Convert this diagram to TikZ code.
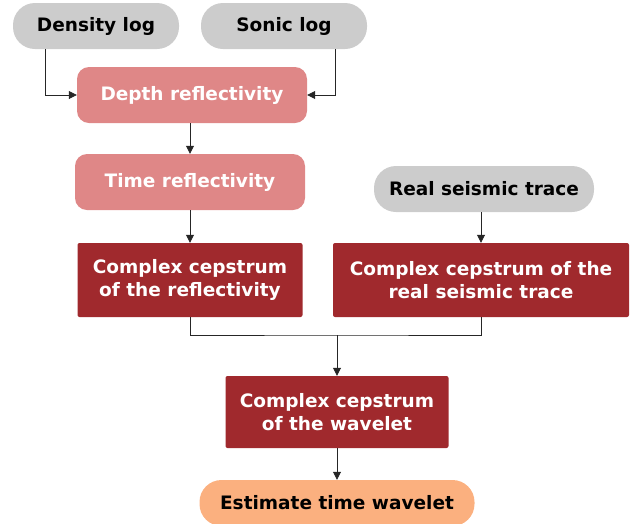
\documentclass[tikz,border=0pt]{standalone}
\usepackage{fontspec}
\setmainfont{DejaVu Sans}
\usetikzlibrary{arrows.meta}
\definecolor{logGray}{HTML}{CCCCCC}
\definecolor{reflPink}{HTML}{DF8787}
\definecolor{cepsRed}{HTML}{A0292D}
\definecolor{waveOrange}{HTML}{FBB07F}
\begin{document}
\begin{tikzpicture}[x=1pt,y=-1pt,
    every node/.style={font=\bfseries\fontsize{18.5}{23}\selectfont,align=center,inner sep=0pt},
    inputpill/.style={fill=logGray,text=black,rounded corners=22pt,minimum height=46pt},
    reflbox/.style={fill=reflPink,text=white,rounded corners=12pt,minimum width=230pt,minimum height=56pt},
    cepsbox/.style={fill=cepsRed,text=white,rounded corners=2pt,minimum height=74pt},
    link/.style={-{Triangle[length=8pt,width=8pt]},black!85,line width=0.8pt}]
  \useasboundingbox (0,0) rectangle (635,523);
  % input logs
  \node[inputpill,minimum width=166pt] (dens) at (96,26) {Density log};
  \node[inputpill,minimum width=166pt] (sonic) at (284,26) {Sonic log};
  % reflectivity
  \node[reflbox] (depth) at (192,95) {Depth reflectivity};
  \node[reflbox] (time) at (190,182) {Time reflectivity};
  % seismic trace
  \node[inputpill,minimum width=220pt] (trace) at (484,189) {Real seismic trace};
  % cepstra
  \node[cepsbox,minimum width=225pt] (ccrefl) at (190,280) {Complex cepstrum\\of the reflectivity};
  \node[cepsbox,minimum width=296pt] (cctrace) at (481,280) {Complex cepstrum of the\\real seismic trace};
  \node[cepsbox,minimum width=223pt,minimum height=72pt] (ccwave) at (337,412) {Complex cepstrum\\of the wavelet};
  % result
  \node[inputpill,fill=waveOrange,minimum width=275pt] (est) at (337,503) {Estimate time wavelet};
  \coordinate (join) at (337,335);
  % connectors
  \draw[link] ([xshift=-51pt]dens.south) |- (depth.west);
  \draw[link] ([xshift=51pt]sonic.south) |- (depth.east);
  \draw[link] (time.north |- depth.south) -- (time.north);
  \draw[link] (time) -- (ccrefl);
  \draw[link] (cctrace.north |- trace.south) -- (cctrace.north);
  \draw[black!85,line width=0.8pt] (ccrefl.south) |- (join) -| (cctrace.south);
  \draw[link] (join) -- (ccwave);
  \draw[link] (ccwave) -- (est);
\end{tikzpicture}
\end{document}
